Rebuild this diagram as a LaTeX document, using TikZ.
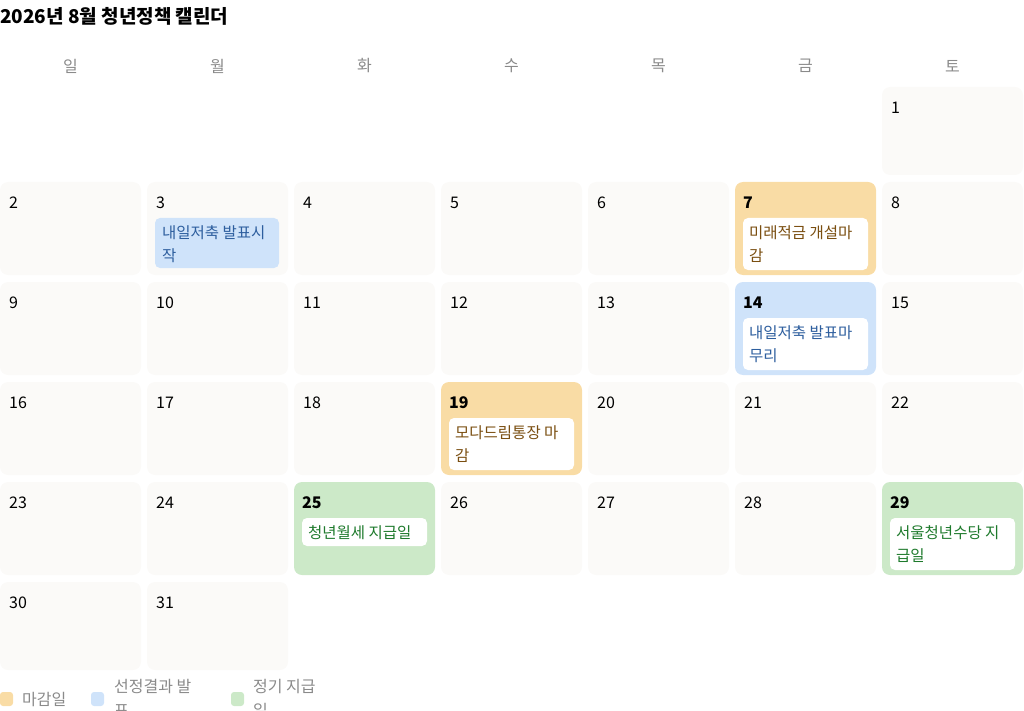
\documentclass[tikz,border=0pt]{standalone}
\usepackage{fontspec}
\setmainfont{Noto Sans CJK KR}
\definecolor{cellbg}{HTML}{FBFAF8}
\definecolor{dueC}{HTML}{F9DCA5}
\definecolor{pubC}{HTML}{CFE3FA}
\definecolor{payC}{HTML}{CCE9C8}
\definecolor{dueT}{HTML}{7A4E10}
\definecolor{pubT}{HTML}{2D5E9E}
\definecolor{payT}{HTML}{1E7A2C}
\definecolor{headT}{HTML}{8A8A8A}
\tikzset{
  cell/.style={rounded corners=8pt, fill=#1},
  daynum/.style={anchor=west, font=\fontsize{16}{18}\selectfont, inner sep=0},
  evbox/.style={rounded corners=5pt, fill=#1},
  evtext/.style={anchor=north west, align=left, inner sep=0,
    font=\fontsize{15.5}{23}\selectfont, text=#1},
  legtext/.style={anchor=west, inner sep=0, font=\fontsize{16}{24}\selectfont, text=headT, align=left}
}
\begin{document}
\begin{tikzpicture}[x=1pt, y=-1pt]
  \useasboundingbox (0,0) rectangle (1024,711);

  % title
  \node[anchor=west, inner sep=0, font=\bfseries\fontsize{19}{22}\selectfont] (title) at (0,16) {2026년 8월 청년정책 캘린더};

  % weekdays
  \foreach \w [count=\i from 0] in {일,월,화,수,목,금,토}
    \node[text=headT, font=\fontsize{16}{18}\selectfont] (wd\i) at (70.5+147*\i,66) {\w};

  % plain days
  \foreach \d in {1,2,3,4,5,6,8,9,10,11,12,13,15,16,17,18,20,21,22,23,24,26,27,28,30,31} {
    \pgfmathtruncatemacro\c{mod(\d+5,7)}
    \pgfmathtruncatemacro\r{div(\d+5,7)}
    \pgfmathsetmacro\yt{\r==0 ? 87 : 82+100*\r}
    \pgfmathsetmacro\yb{\r==5 ? 670 : 175+100*\r}
    \fill[cell=cellbg] (147*\c,\yt) rectangle (147*\c+141,\yb);
    \node[daynum] (day\d) at (147*\c+9,\yt+21) {\d};
  }

  % day 3 event
  \fill[evbox=pubC] (155,218) rectangle (279,268);
  \node[evtext=pubT] (ev3) at (162,225) {내일저축 발표시\\작};

  % highlighted days: day / col / row top / fill / text colour / label / box bottom
  \foreach \d/\c/\y/\f/\t/\l/\h in {
      7/5/182/dueC/dueT/{미래적금 개설마\\감}/88,
      14/5/282/pubC/pubT/{내일저축 발표마\\무리}/88,
      19/3/382/dueC/dueT/{모다드림통장 마\\감}/88,
      25/2/482/payC/payT/{청년월세 지급일}/64,
      29/6/482/payC/payT/{서울청년수당 지\\급일}/88} {
    \fill[cell=\f] (147*\c,\y) rectangle (147*\c+141,\y+93);
    \node[daynum, font=\bfseries\fontsize{16}{18}\selectfont] (day\d) at (147*\c+8,\y+21) {\d};
    \fill[evbox=white] (147*\c+8,\y+36) rectangle (147*\c+133,\y+\h);
    \node[evtext=\t] (ev\d) at (147*\c+14,\y+43) {\l};
  }

  % legend
  \fill[rounded corners=3pt, fill=dueC] (0,692) rectangle (13,706);
  \node[legtext] (leg1) at (22,700) {마감일};
  \fill[rounded corners=3pt, fill=pubC] (91,692) rectangle (104,706);
  \node[legtext, anchor=north west] (leg2) at (114,679) {선정결과 발\\표};
  \fill[rounded corners=3pt, fill=payC] (231,692) rectangle (244,706);
  \node[legtext, anchor=north west] (leg3) at (253,679) {정기 지급\\일};
\end{tikzpicture}
\end{document}
